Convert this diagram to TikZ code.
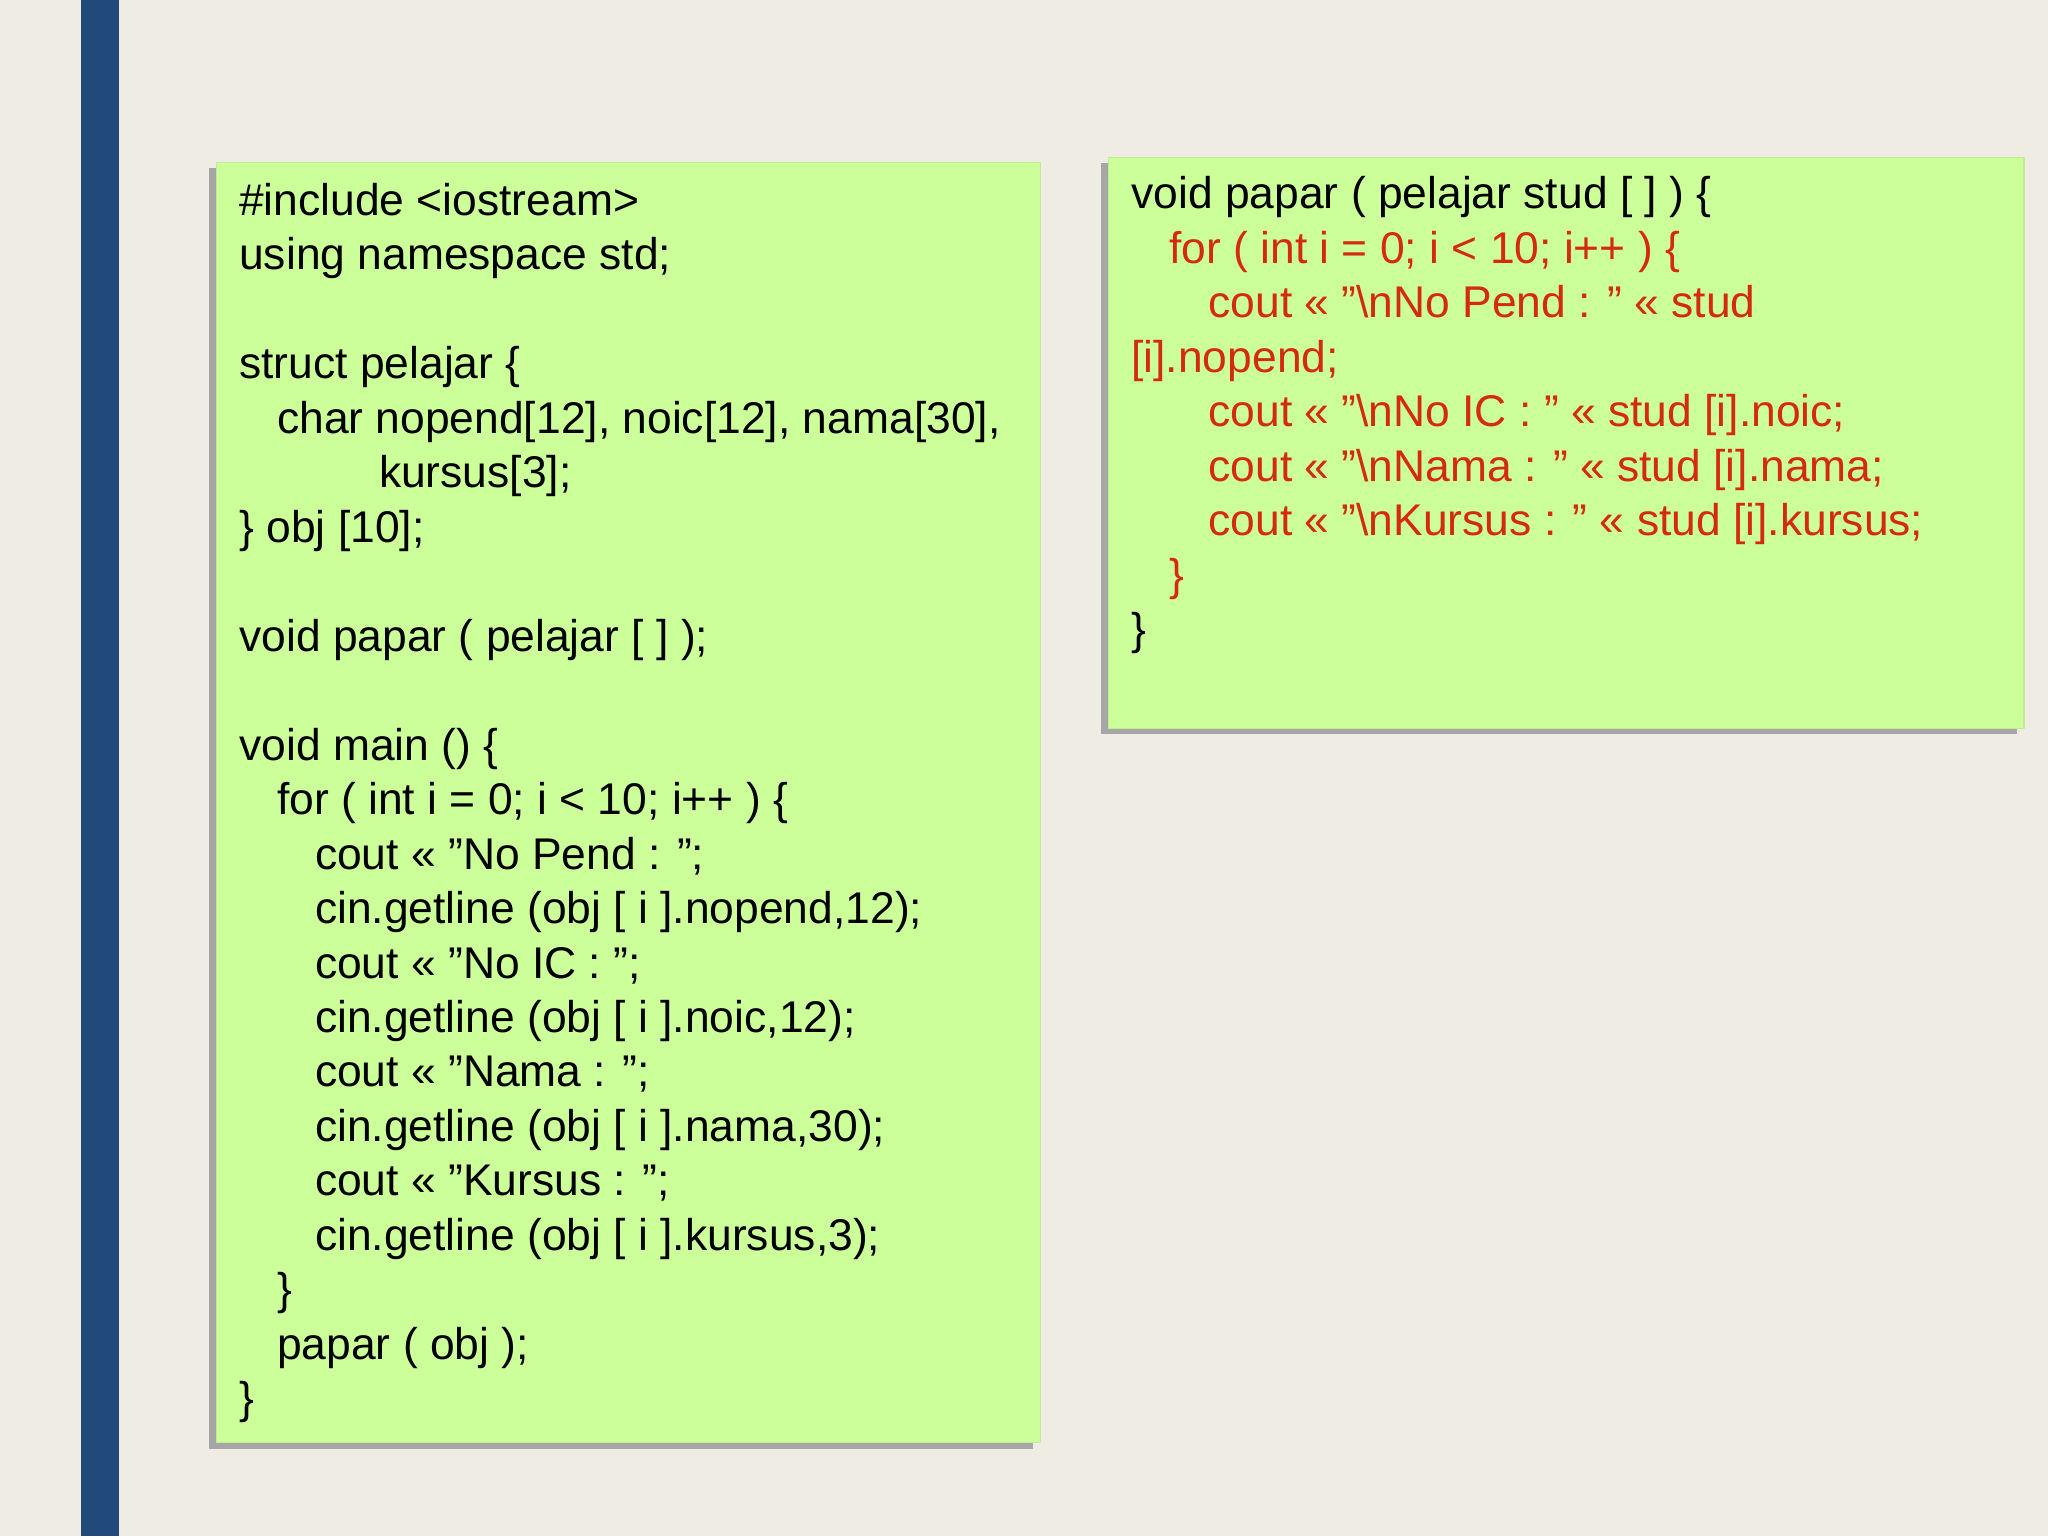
\documentclass[tikz,border=0pt]{standalone}
\usepackage{fontspec}
\setmainfont{Liberation Sans}
\definecolor{bg}{HTML}{EFECE4}
\definecolor{bar}{HTML}{214A7B}
\definecolor{panel}{HTML}{CCFF99}
\definecolor{codered}{HTML}{D42A10}
\tikzset{code/.style={anchor=base west,inner sep=0pt,font=\fontsize{34}{41.7}\selectfont},
  red/.style={code,text=codered},
  panelbox/.style={fill=panel,draw=panel!85!gray,line width=1pt},
  shadowbox/.style={fill=black!35,draw=none}}
\begin{document}
\begin{tikzpicture}[x=1pt,y=-1pt]
\useasboundingbox (0,0) rectangle (1568,1176);
\fill[bg] (0,0) rectangle (1568,1176);
\fill[bar] (62,0) rectangle (91,1176);
% left panel
\fill[shadowbox] (160,129) rectangle (791,1109);
\node[panelbox,minimum width=631,minimum height=980,anchor=north west,inner sep=0pt] (left) at (165,124) {};
% right panel
\fill[shadowbox] (843,125) rectangle (1544,562);
\node[panelbox,minimum width=701,minimum height=437,anchor=north west,inner sep=0pt] (right) at (848,120) {};
\def\b{165}\def\s{41.7}
\node[code] (l0) at (183,\b) {\#include <iostream>};
\node[code] (l1) at (183,\b+\s) {using namespace std;};
\node[code] (l3) at (183,\b+3*\s) {struct pelajar \{};
\node[code] (l4) at (212,\b+4*\s) {char nopend[12], noic[12], nama[30],};
\node[code] (l5) at (290,\b+5*\s) {kursus[3];};
\node[code] (l6) at (183,\b+6*\s) {\} obj [10];};
\node[code] (l8) at (183,\b+8*\s) {void papar ( pelajar [ ] );};
\node[code] (l10) at (183,\b+10*\s) {void main () \{};
\node[code] (l11) at (212,\b+11*\s) {for ( int i = 0; i < 10; i++ ) \{};
\node[code] (l12) at (241,\b+12*\s) {cout << "No Pend : ";};
\node[code] (l13) at (241,\b+13*\s) {cin.getline (obj [ i ].nopend,12);};
\node[code] (l14) at (241,\b+14*\s) {cout << "No IC : ";};
\node[code] (l15) at (241,\b+15*\s) {cin.getline (obj [ i ].noic,12);};
\node[code] (l16) at (241,\b+16*\s) {cout << "Nama : ";};
\node[code] (l17) at (241,\b+17*\s) {cin.getline (obj [ i ].nama,30);};
\node[code] (l18) at (241,\b+18*\s) {cout << "Kursus : ";};
\node[code] (l19) at (241,\b+19*\s) {cin.getline (obj [ i ].kursus,3);};
\node[code] (l20) at (212,\b+20*\s) {\}};
\node[code] (l21) at (212,\b+21*\s) {papar ( obj );};
\node[code] (l22) at (183,\b+22*\s) {\}};
\def\r{160}
\node[code] (r0) at (866,\r) {void papar ( pelajar stud [ ] ) \{};
\node[red] (r1) at (895,\r+\s) {for ( int i = 0; i < 10; i++ ) \{};
\node[red] (r2) at (925,\r+2*\s) {cout << "\textbackslash nNo Pend : " << stud};
\node[red] (r3) at (866,\r+3*\s) {[i].nopend;};
\node[red] (r4) at (925,\r+4*\s) {cout << "\textbackslash nNo IC : " << stud [i].noic;};
\node[red] (r5) at (925,\r+5*\s) {cout << "\textbackslash nNama : " << stud [i].nama;};
\node[red] (r6) at (925,\r+6*\s) {cout << "\textbackslash nKursus : " << stud [i].kursus;};
\node[red] (r7) at (895,\r+7*\s) {\}};
\node[code] (r8) at (866,\r+8*\s) {\}};
\end{tikzpicture}
\end{document}
